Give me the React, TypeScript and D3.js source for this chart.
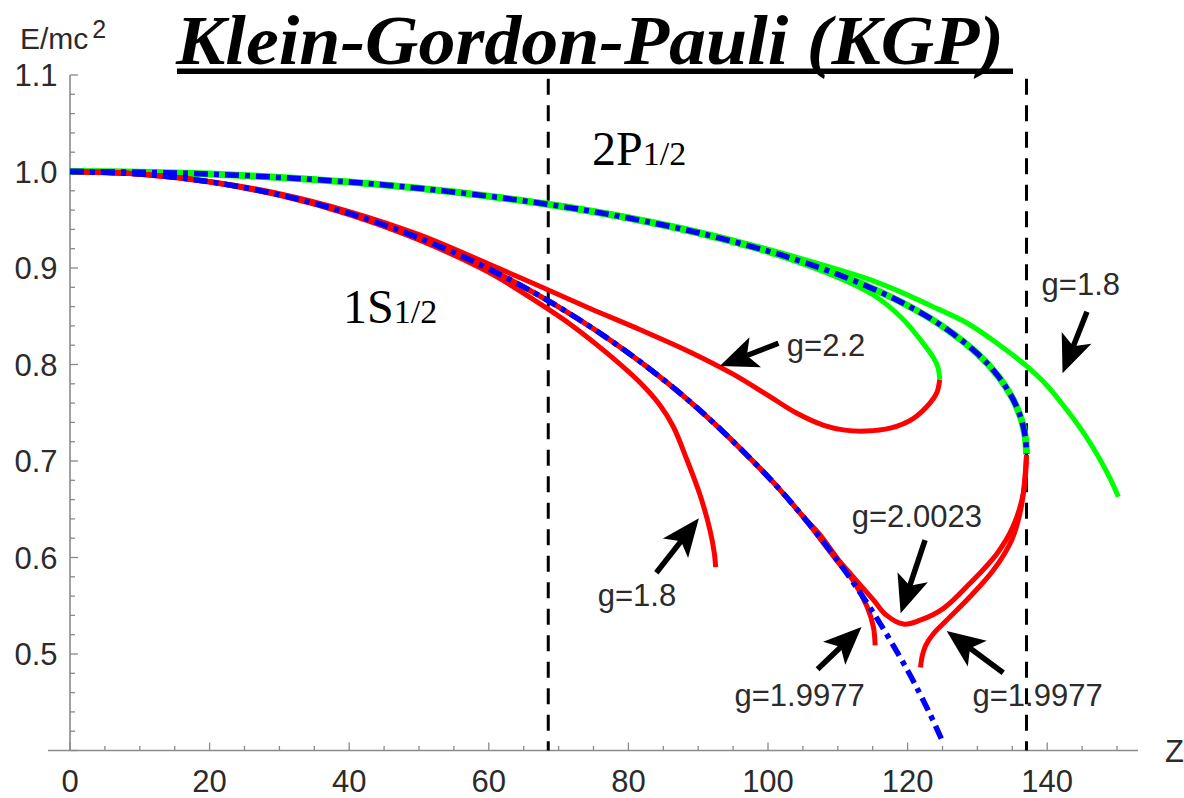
import React from "react";
import * as d3 from "d3";

type Pt = [number, number];

// Tick labels
const xTickLabels = [0, 20, 40, 60, 80, 100, 120, 140];
const yTickLabels = [0.5, 0.6, 0.7, 0.8, 0.9, 1.0, 1.1];

// Vertical reference lines: Z = 1/(2α) and Z = 1/α
const refLinesZ = [68.518, 137.036];

// Dirac reference levels (dot-dashed)
const dirac1S: Pt[] = [
  [0, 1], [10, 0.9973], [20, 0.9893], [30, 0.9758], [40, 0.9565], [50, 0.9311],
  [60, 0.8991], [70, 0.8597], [80, 0.8119], [90, 0.7541], [100, 0.6837],
  [105, 0.6426], [110, 0.5964], [115, 0.5438], [120, 0.4829], [123, 0.4409], [125.1, 0.408],
];
const dirac2P: Pt[] = [
  [0, 1], [10, 0.9993], [20, 0.9973], [30, 0.9939], [40, 0.9891], [50, 0.9826],
  [60, 0.9744], [70, 0.9643], [80, 0.9518], [90, 0.9365], [100, 0.9175],
  [105, 0.9063], [110, 0.8934], [115, 0.8786], [120, 0.8611], [125, 0.8396],
  [130, 0.8113], [133, 0.7877], [135, 0.7654], [136, 0.7493], [136.5, 0.7377],
  [136.9, 0.7227], [137.036, 0.7071],
];

// KGP 2P1/2 branches (green)
const p2_g20023: Pt[] = dirac2P;
const p2_g22: Pt[] = [
  [0, 1], [20, 0.9973], [40, 0.9889], [60, 0.9740], [70, 0.9638], [80, 0.9511],
  [90, 0.9355], [100, 0.9163], [110, 0.8903], [115.1, 0.872], [119.2, 0.848],
  [121.9, 0.825], [123.7, 0.807], [124.35, 0.797], [124.6, 0.784],
];
const p2_g18: Pt[] = [
  [0, 1], [10, 0.9993], [20, 0.9974], [30, 0.9941], [40, 0.9893], [50, 0.983],
  [60, 0.975], [70, 0.9652], [80, 0.953], [90, 0.938], [100, 0.9195], [110, 0.8985],
  [115, 0.887], [118.9, 0.8755], [123, 0.862], [128.5, 0.843], [133, 0.821],
  [137.1, 0.798], [140, 0.778], [142.8, 0.753], [145.5, 0.726], [147.6, 0.701],
  [149, 0.682], [150.2, 0.663],
];

// KGP 1S1/2 branches (red)
const s1_g22: Pt[] = [
  [0, 1], [10, 0.9974], [20, 0.9897], [30, 0.977], [40, 0.9585], [50, 0.9345],
  [60, 0.904], [67.3, 0.881], [74.5, 0.858], [81.7, 0.836], [88.8, 0.813],
  [95, 0.79], [100, 0.768], [104, 0.75], [108, 0.737], [111, 0.732], [114, 0.731],
  [117.5, 0.734], [120.8, 0.744], [123.2, 0.76], [124.2, 0.771], [124.6, 0.784],
];
const s1_g18: Pt[] = [
  [0, 1], [10, 0.9972], [20, 0.989], [30, 0.9752], [40, 0.9553], [50, 0.929],
  [60, 0.8955], [67.3, 0.863], [72, 0.84], [76.9, 0.812], [81.7, 0.781],
  [84.5, 0.758], [86.4, 0.736], [88.4, 0.701], [90.3, 0.664], [91.7, 0.628],
  [92.3, 0.605], [92.5, 0.59],
];
const s1_g20023: Pt[] = [
  [0, 1], [10, 0.9973], [20, 0.9893], [30, 0.9758], [40, 0.9565], [50, 0.9311],
  [60, 0.8991], [70, 0.8597], [80, 0.8119], [90, 0.7541], [100, 0.6838],
  [105, 0.6428], [107.4, 0.624], [110, 0.5985], [112.2, 0.58], [115.1, 0.556],
  [117, 0.54], [119.4, 0.531], [121.8, 0.535], [125.1, 0.547], [128.9, 0.573],
  [132.8, 0.604], [135.1, 0.632], [136.6, 0.667], [137.036, 0.706],
];
const s1_g19977a: Pt[] = [
  [0, 1], [10, 0.9973], [20, 0.9893], [30, 0.9758], [40, 0.9565], [50, 0.9311],
  [60, 0.8991], [70, 0.8597], [80, 0.8119], [90, 0.7541], [100, 0.6836],
  [105, 0.6424], [110, 0.5955], [112.2, 0.576], [114.2, 0.549], [115.1, 0.528], [115.35, 0.509],
];
const s1_g19977b: Pt[] = [
  [121.85, 0.486], [122.1, 0.498], [122.6, 0.509], [123.7, 0.521], [125.6, 0.535],
  [128.9, 0.559], [132.3, 0.587], [134.9, 0.618], [136.3, 0.653], [137.036, 0.706],
];

// Annotation labels: text, anchor Z, baseline E
const gLabels: { text: string; z: number; e: number }[] = [
  { text: "g=2.2", z: 102.7, e: 0.8088 },
  { text: "g=1.8", z: 139.2, e: 0.872 },
  { text: "g=1.8", z: 75.6, e: 0.5497 },
  { text: "g=2.0023", z: 112.0, e: 0.632 },
  { text: "g=1.9977", z: 95.2, e: 0.4461 },
  { text: "g=1.9977", z: 129.3, e: 0.4461 },
];
// Arrows: tail and tip in (Z, E)
const gArrows: { from: Pt; to: Pt }[] = [
  { from: [101.5, 0.822], to: [93.1, 0.7985] },
  { from: [145.7, 0.8547], to: [142.2, 0.7909] },
  { from: [84.0, 0.5842], to: [90.1, 0.6406] },
  { from: [122.5, 0.6181], to: [119.0, 0.5422] },
  { from: [107.1, 0.4841], to: [113.4, 0.528] },
  { from: [133.7, 0.4806], to: [125.6, 0.5238] },
];

const RED = "#ff0000";
const GREEN = "#00ff00";
const BLUE = "#0000ff";

export default function App() {
  const x = d3.scaleLinear().domain([0, 140]).range([70, 1047.2]);
  const y = d3.scaleLinear().domain([0.4, 1.1]).range([750.5, 75]);
  const line = d3
    .line<Pt>()
    .x((d) => x(d[0]))
    .y((d) => y(d[1]))
    .curve(d3.curveCatmullRom.alpha(0.5));

  const xMinor = d3.range(0, 151, 5);
  const yMinor = d3.range(0.4, 1.1001, 0.02);

  const axisColor = "#8a8a8a";
  const textColor = "#2b2b2b";
  const sans = "'Liberation Sans', Arial, sans-serif";
  const serif = "'Liberation Serif', 'Times New Roman', serif";

  // [series, stroke width]
  const greens: [Pt[], number][] = [[p2_g20023, 7], [p2_g22, 5], [p2_g18, 5]];
  const reds = [s1_g22, s1_g18, s1_g20023, s1_g19977a, s1_g19977b];

  const arrowShape = (a: { from: Pt; to: Pt }, i: number) => {
    const sx = x(a.from[0]), sy = y(a.from[1]);
    const tx = x(a.to[0]), ty = y(a.to[1]);
    const len = Math.hypot(tx - sx, ty - sy);
    const ux = (tx - sx) / len, uy = (ty - sy) / len;
    const nx = -uy, ny = ux;
    const L = 38, Wd = 16, notch = 9;
    const bx = tx - ux * L, by = ty - uy * L;
    const kx = tx - ux * (L - notch), ky = ty - uy * (L - notch);
    const head = `M${tx},${ty}L${bx + nx * Wd},${by + ny * Wd}L${kx},${ky}L${bx - nx * Wd},${by - ny * Wd}Z`;
    return (
      <g key={i}>
        <line x1={sx} y1={sy} x2={kx + ux * 2} y2={ky + uy * 2} stroke="#000" strokeWidth={5.5} />
        <path d={head} fill="#000" />
      </g>
    );
  };

  return (
    <svg
      width={1184}
      height={798}
      style={{ position: "absolute", left: 0, top: 0, background: "#fff" }}
    >
      <rect width={1184} height={798} fill="#fff" />

      {/* title */}
      <text
        x={176}
        y={63.5}
        fontFamily={serif}
        fontWeight="bold"
        fontStyle="italic"
        fontSize={70}
        textLength={828}
        lengthAdjust="spacingAndGlyphs"
        fill="#000"
      >
        Klein-Gordon-Pauli (KGP)
      </text>
      <rect x={177} y={68.5} width={836} height={5.5} fill="#000" />

      {/* axes */}
      <line x1={x(-3.15)} x2={x(153)} y1={y(0.4)} y2={y(0.4)} stroke={axisColor} strokeWidth={1.6} />
      <line x1={x(0)} x2={x(0)} y1={y(1.1)} y2={y(0.4)} stroke={axisColor} strokeWidth={1.6} />
      {xMinor.map((v) => {
        const major = v % 20 === 0;
        return (
          <line key={"xt" + v} x1={x(v)} x2={x(v)} y1={y(0.4)} y2={y(0.4) - (major ? 8 : 4.5)} stroke={axisColor} strokeWidth={1.3} />
        );
      })}
      {yMinor.map((v, i) => {
        const major = i % 5 === 0;
        return (
          <line key={"yt" + i} x1={x(0)} x2={x(0) + (major ? 8 : 5)} y1={y(v)} y2={y(v)} stroke={axisColor} strokeWidth={1.3} />
        );
      })}
      {xTickLabels.map((v) => (
        <text key={"xl" + v} x={x(v)} y={791.5} textAnchor="middle" fontFamily={sans} fontSize={31} fill={textColor}>
          {v}
        </text>
      ))}
      {yTickLabels.map((v) => (
        <text key={"yl" + v} x={57.5} y={y(v) + 11} textAnchor="end" fontFamily={sans} fontSize={31} fill={textColor}>
          {v.toFixed(1)}
        </text>
      ))}
      <text x={20} y={49} fontFamily={sans} fontSize={30} fill={textColor}>
        E/mc
        <tspan dx={4} dy={-11} fontSize={25}>2</tspan>
      </text>
      <text x={1165} y={762} fontFamily={sans} fontSize={31} fill={textColor}>Z</text>

      {/* reference lines */}
      {refLinesZ.map((z) => (
        <line key={"rl" + z} x1={x(z)} x2={x(z)} y1={y(1.096)} y2={y(0.4)} stroke="#000" strokeWidth={3} strokeDasharray="16,10.5" />
      ))}

      {/* level labels */}
      <text x={343} y={323} fontFamily={serif} fontSize={48} fill="#000">
        1S<tspan fontSize={34}>1/2</tspan>
      </text>
      <text x={592} y={165} fontFamily={serif} fontSize={48} fill="#000">
        2P<tspan fontSize={34}>1/2</tspan>
      </text>

      {/* curves */}
      {greens.map(([d, w], i) => (
        <path key={"g" + i} d={line(d) || ""} fill="none" stroke={GREEN} strokeWidth={w} strokeLinecap="butt" />
      ))}
      {reds.map((d, i) => (
        <path key={"r" + i} d={line(d) || ""} fill="none" stroke={RED} strokeWidth={5} strokeLinecap="butt" />
      ))}
      {[dirac2P, dirac1S].map((d, i) => (
        <path key={"b" + i} d={line(d) || ""} fill="none" stroke={BLUE} strokeWidth={5.5} strokeDasharray="14,6,5,6" />
      ))}

      {/* annotations */}
      {gArrows.map(arrowShape)}
      {gLabels.map((l, i) => (
        <text key={"gl" + i} x={x(l.z)} y={y(l.e)} fontFamily={sans} fontSize={31} fill={textColor}>
          {l.text}
        </text>
      ))}
    </svg>
  );
}
